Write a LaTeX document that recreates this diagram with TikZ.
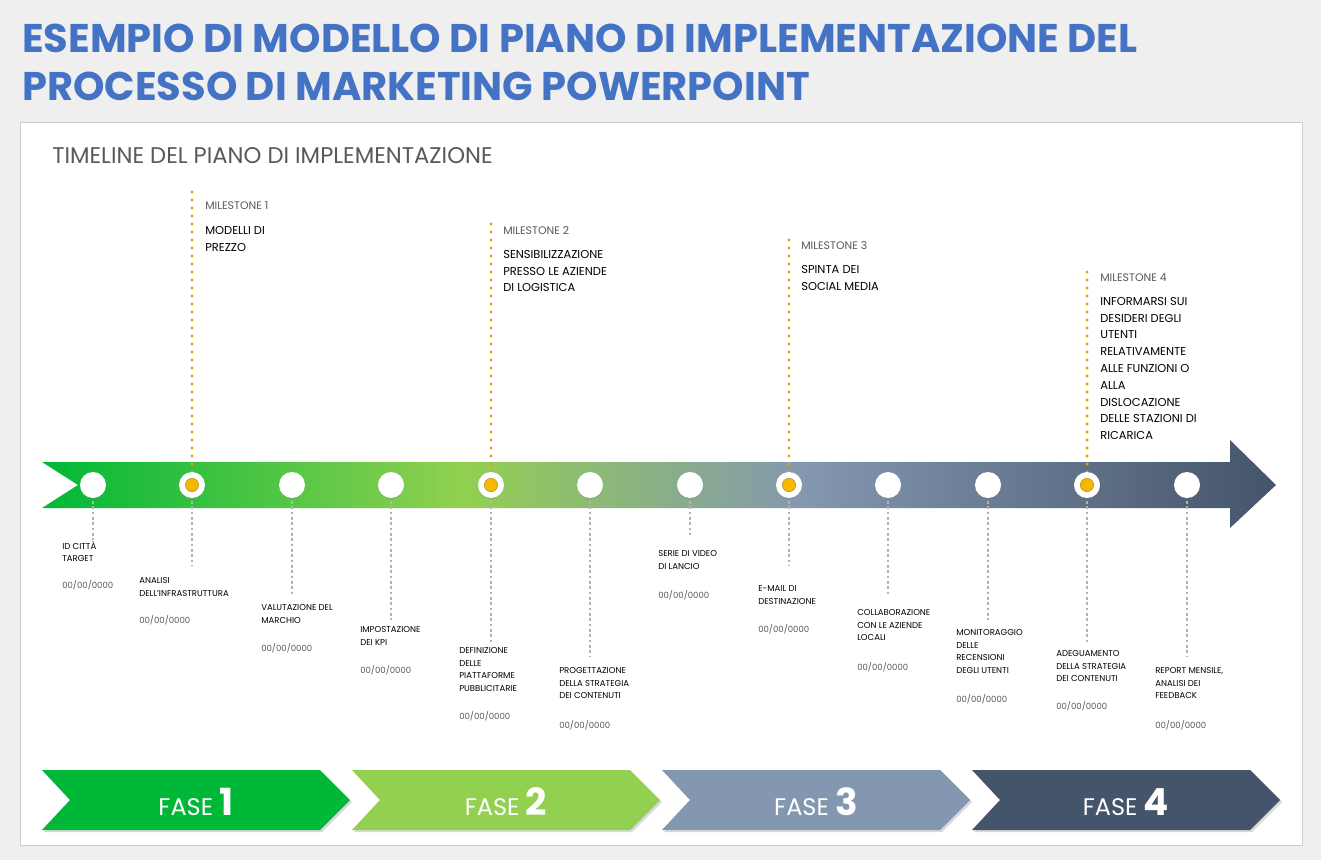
\documentclass[tikz,border=0pt]{standalone}
\usepackage{fontspec}
\setmainfont{Poppins}
\usetikzlibrary{shadows}
\definecolor{bg}{HTML}{EFEFEF}
\definecolor{ttl}{HTML}{4472C4}
\definecolor{gA}{HTML}{00B837}
\definecolor{gB}{HTML}{92D050}
\definecolor{gC}{HTML}{8497B0}
\definecolor{gD}{HTML}{44546A}
\definecolor{orng}{HTML}{F5B800}
\definecolor{txt}{HTML}{595959}
\pgfdeclarehorizontalshading{band}{100bp}{color(0bp)=(gA); color(25bp)=(gA); color(42bp)=(gB); color(56bp)=(gC); color(75bp)=(gD); color(100bp)=(gD)}
\tikzset{
 x=0.75pt,y=-0.75pt,
 dot/.style={circle,fill=white,minimum size=19.5pt,inner sep=0pt,drop shadow={opacity=0.25,shadow xshift=0pt,shadow yshift=-1pt}},
 ms/.style={circle,fill=orng,draw=orng!70!black,line width=0.3pt,minimum size=10pt,inner sep=0pt},
 odot/.style={orng!90!black,line width=2.6pt,line cap=round,dash pattern=on 0pt off 6pt},
 gdot/.style={black!30,line width=2.2pt,dash pattern=on 2pt off 2pt},
 lab/.style={anchor=north west,align=left,font=\fontsize{6.4}{9.6}\selectfont,inner sep=0pt},
 date/.style={anchor=north west,font=\fontsize{6.4}{8}\selectfont,text=txt,inner sep=0pt},
 mlab/.style={anchor=north west,font=\fontsize{8.2}{10}\selectfont,text=txt,inner sep=0pt},
 mtxt/.style={anchor=north west,align=left,font=\fontsize{8.6}{12.6}\selectfont,inner sep=0pt},
 fase/.style={text=white,font=\fontsize{18}{20}\selectfont},
}
\begin{document}
\begin{tikzpicture}
\fill[bg] (0,0) rectangle (1321,860);
\useasboundingbox (0,0) rectangle (1321,860);
\node[anchor=north west,inner sep=0pt,align=left,text=ttl,font=\fontsize{30}{35.5}\selectfont\bfseries] (title) at (22,24) {ESEMPIO DI MODELLO DI PIANO DI IMPLEMENTAZIONE DEL\\PROCESSO DI MARKETING POWERPOINT};
\filldraw[fill=white,draw=black!20] (20,122) rectangle (1302,845);
\node[anchor=west,inner sep=0pt,text=txt,font=\fontsize{17}{20}\selectfont] (sub) at (52,156) {TIMELINE DEL PIANO DI IMPLEMENTAZIONE};
% band
\shade[shading=band] (42,462) -- (1230,462) -- (1230,440) -- (1276,485) -- (1230,528) -- (1230,508) -- (42,508) -- (78,485) -- cycle;
% lower dotted connectors & labels
\foreach \i/\x/\e in {1/93/540,2/192/566,3/292/596,4/391/620,5/491/642,6/590/656,7/690/535,8/789/566,9/888/596,10/988/620,11/1087/644,12/1187/656}{
  \coordinate (e\i) at (\x,\e);
  \coordinate (cc\i) at (\x,485);
  \draw[gdot] (cc\i) -- (e\i);
}
% milestone dotted lines
\foreach \i/\x/\t in {2/192/192,5/491/219,8/789/240,11/1087/272}{
  \coordinate (m\i) at (\x,\t);
  \draw[odot] (\x,472) -- (m\i);
}
\foreach \i/\x in {1/93,2/192,3/292,4/391,5/491,6/590,7/690,8/789,9/888,10/988,11/1087,12/1187}{
  \node[dot] (c\i) at (\x,485) {};
}
\foreach \i in {2,5,8,11}{\node[ms] (o\i) at (c\i) {};}
% milestone texts
\node[mlab] (ml1) at (205,201) {MILESTONE 1};
\node[mtxt] (mt1) at (205,226) {MODELLI DI\\PREZZO};
\node[mlab] (ml2) at (503,226) {MILESTONE 2};
\node[mtxt] (mt2) at (503,250) {SENSIBILIZZAZIONE\\PRESSO LE AZIENDE\\DI LOGISTICA};
\node[mlab] (ml3) at (801,241) {MILESTONE 3};
\node[mtxt] (mt3) at (801,265) {SPINTA DEI\\SOCIAL MEDIA};
\node[mlab] (ml4) at (1100,273) {MILESTONE 4};
\node[mtxt] (mt4) at (1100,297) {INFORMARSI SUI\\DESIDERI DEGLI\\UTENTI\\RELATIVAMENTE\\ALLE FUNZIONI O\\ALLA\\DISLOCAZIONE\\DELLE STAZIONI DI\\RICARICA};
% lower labels
\foreach \i/\x/\y/\d/\t in {
 1/62/541/580/{ID CITTÀ\\TARGET},
 2/139/577/615/{ANALISI\\DELL'INFRASTRUTTURA},
 3/261/604/643/{VALUTAZIONE DEL\\MARCHIO},
 4/360/626/665/{IMPOSTAZIONE\\DEI KPI},
 5/459/647/711/{DEFINIZIONE\\DELLE\\PIATTAFORME\\PUBBLICITARIE},
 6/559/667/720/{PROGETTAZIONE\\DELLA STRATEGIA\\DEI CONTENUTI},
 7/658/550/590/{SERIE DI VIDEO\\DI LANCIO},
 8/758/585/624/{E-MAIL DI\\DESTINAZIONE},
 9/857/609/662/{COLLABORAZIONE\\CON LE AZIENDE\\LOCALI},
 10/956/629/694/{MONITORAGGIO\\DELLE\\RECENSIONI\\DEGLI UTENTI},
 11/1056/650/701/{ADEGUAMENTO\\DELLA STRATEGIA\\DEI CONTENUTI},
 12/1155/667/720/{REPORT MENSILE,\\ANALISI DEI\\FEEDBACK}}{
  \node[lab] (l\i) at (\x,\y) {\t};
  \node[date] (d\i) at (\x,\d) {00/00/0000};
}
% phases
\foreach \i/\x/\c in {1/42/gA,2/352/gB,3/662/gC,4/972/gD}{
  \fill[\c,drop shadow={opacity=0.3,shadow xshift=1.5pt,shadow yshift=-1.5pt}] (\x,770) -- (\x+278,770) -- (\x+308,800) -- (\x+278,830) -- (\x,830) -- (\x+28,800) -- cycle;
  \node[fase] (f\i) at (\x+154,802) {FASE \fontsize{28}{30}\selectfont\bfseries\i};
}
\end{tikzpicture}
\end{document}
